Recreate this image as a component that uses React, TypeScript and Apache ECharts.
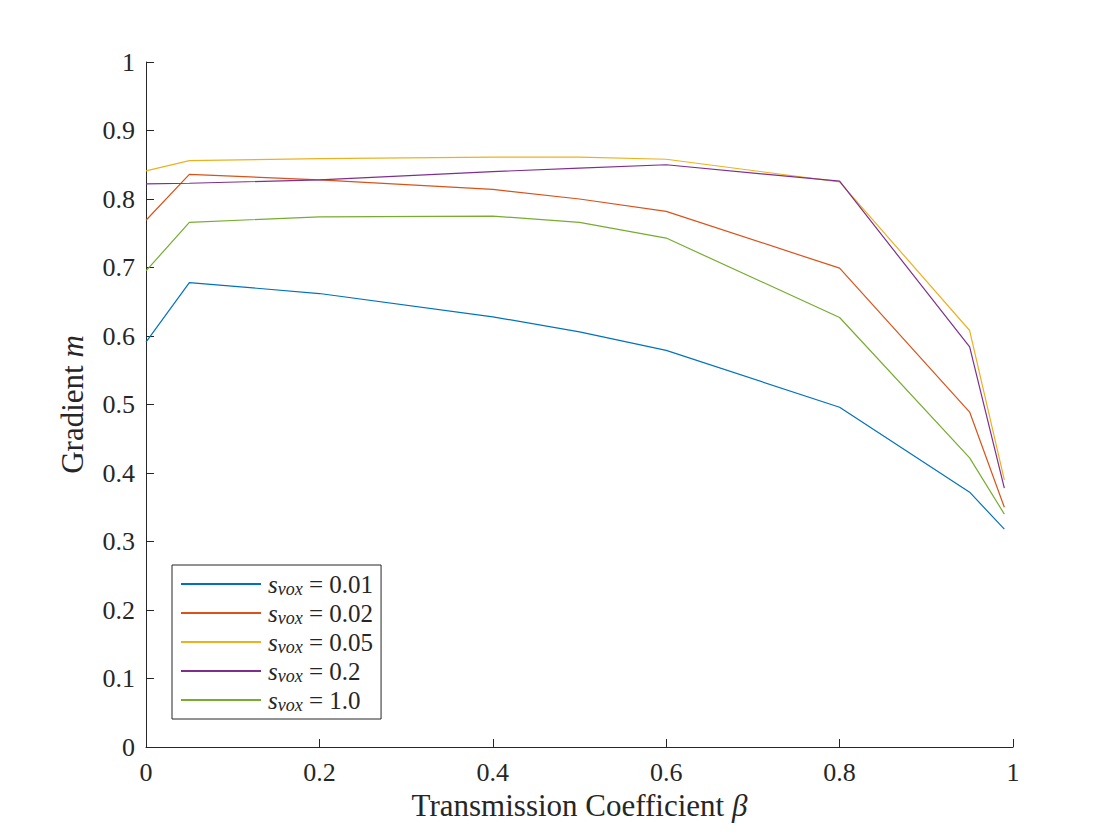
import React, { useEffect, useRef } from "react";
import * as echarts from "echarts";

const betaValues = [0, 0.05, 0.2, 0.4, 0.5, 0.6, 0.8, 0.95, 0.99];
const svox001 = [0.591, 0.678, 0.662, 0.628, 0.606, 0.579, 0.496, 0.372, 0.318];
const svox002 = [0.769, 0.836, 0.828, 0.814, 0.8, 0.782, 0.699, 0.489, 0.35];
const svox005 = [0.841, 0.856, 0.859, 0.861, 0.861, 0.858, 0.825, 0.608, 0.39];
const svox02 = [0.822, 0.823, 0.828, 0.84, 0.845, 0.85, 0.826, 0.584, 0.378];
const svox1 = [0.695, 0.766, 0.774, 0.775, 0.766, 0.743, 0.627, 0.422, 0.34];
const seriesLabels = ["0.01", "0.02", "0.05", "0.2", "1.0"];
const seriesValues = [svox001, svox002, svox005, svox02, svox1];
const seriesColors = ["#0072BD", "#D95319", "#EDB120", "#7E2F8E", "#77AC30"];

const FONT = "Liberation Serif";
const AXIS = "#262626";

export default function App() {
  const ref = useRef<HTMLDivElement>(null);
  useEffect(() => {
    document.body.style.margin = "0";
    const chart = echarts.init(ref.current!, null, { renderer: "svg" });
    const series = seriesValues.map((vals, i) => ({
      name: seriesLabels[i],
      type: "line",
      symbol: "none",
      data: betaValues.map((b, j) => [b, vals[j]]),
      lineStyle: { color: seriesColors[i], width: 1.2 },
      itemStyle: { color: seriesColors[i] },
      z: 2,
    }));
    chart.setOption({
      animation: false,
      backgroundColor: "#ffffff",
      textStyle: { fontFamily: FONT },
      grid: { left: 146, top: 62, width: 867, height: 685 },
      xAxis: {
        type: "value",
        min: 0,
        max: 1,
        interval: 0.2,
        name: "{a|Transmission Coefficient }{b|β}",
        nameLocation: "middle",
        nameGap: 43,
        nameTextStyle: {
          fontFamily: FONT,
          rich: {
            a: { fontFamily: FONT, fontSize: 31, color: AXIS },
            b: { fontFamily: FONT, fontSize: 31, color: AXIS, fontStyle: "italic" },
          },
        },
        axisLine: { show: true, lineStyle: { color: AXIS, width: 1 } },
        axisTick: { show: true, inside: true, length: 8, lineStyle: { color: AXIS } },
        axisLabel: { fontFamily: FONT, fontSize: 26, color: AXIS, margin: 12 },
        splitLine: { show: false },
      },
      yAxis: {
        type: "value",
        min: 0,
        max: 1,
        interval: 0.1,
        name: "{a|Gradient }{b|m}",
        nameLocation: "middle",
        nameGap: 58,
        nameRotate: 90,
        nameTextStyle: {
          fontFamily: FONT,
          rich: {
            a: { fontFamily: FONT, fontSize: 31, color: AXIS },
            b: { fontFamily: FONT, fontSize: 31, color: AXIS, fontStyle: "italic" },
          },
        },
        axisLine: { show: true, lineStyle: { color: AXIS, width: 1 } },
        axisTick: { show: true, inside: true, length: 8, lineStyle: { color: AXIS } },
        axisLabel: { fontFamily: FONT, fontSize: 26, color: AXIS, margin: 11 },
        splitLine: { show: false },
      },
      legend: {
        orient: "vertical",
        left: 172,
        top: 565,
        itemWidth: 80,
        itemHeight: 14,
        itemGap: 1,
        padding: [5, 8, 5, 8],
        borderColor: AXIS,
        borderWidth: 1,
        backgroundColor: "#ffffff",
        itemStyle: { opacity: 0 },
        data: seriesLabels,
        formatter: (name: string) => `{s|s}{v|vox}{n| = ${name}}`,
        textStyle: {
          fontFamily: FONT,
          rich: {
            s: { fontFamily: FONT, fontSize: 25, fontStyle: "italic", color: AXIS, lineHeight: 26, padding: [0, 0, 0, 2] },
            v: { fontFamily: FONT, fontSize: 18, fontStyle: "italic", color: AXIS, lineHeight: 12, padding: [10, 0, 0, 0] },
            n: { fontFamily: FONT, fontSize: 25, color: AXIS, lineHeight: 26 },
          },
        },
      },
      series,
    });
    return () => chart.dispose();
  }, []);
  return <div ref={ref} style={{ width: 1120, height: 840 }} />;
}
